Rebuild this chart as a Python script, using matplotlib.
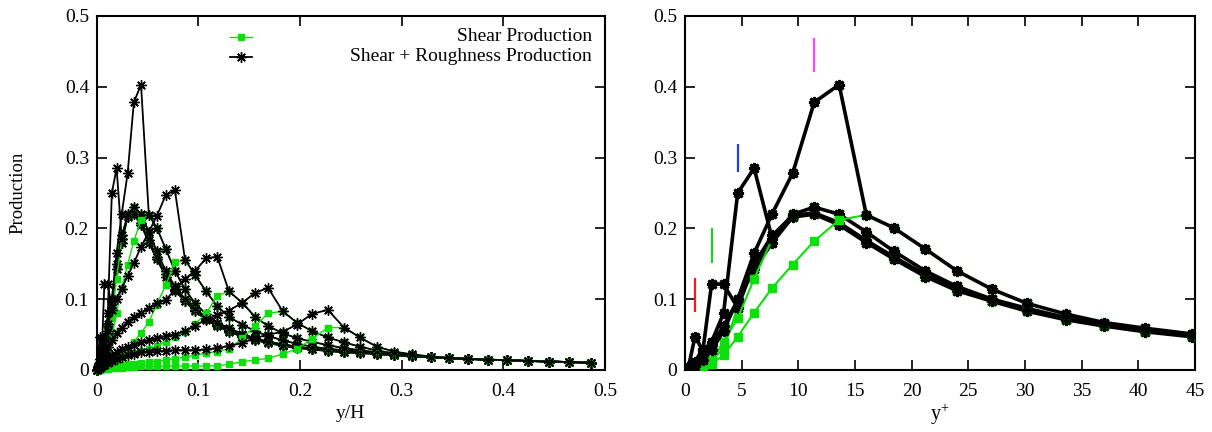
import matplotlib
matplotlib.use("Agg")
import matplotlib.pyplot as plt
import numpy as np

plt.rcParams['font.family'] = ['Liberation Serif', 'DejaVu Serif']
plt.rcParams['mathtext.fontset'] = 'custom'
plt.rcParams['mathtext.rm'] = 'Liberation Serif'
plt.rcParams['font.size'] = 13.5

# wall-normal grid in wall units and friction Reynolds number
re_tau = 312.0
yplus = [0, 0.3, 0.88, 1.6, 2.35, 3.4, 4.65, 6.1, 7.7, 9.5, 11.4, 13.6, 16.0, 18.4,
         21.2, 24.0, 27.1, 30.2, 33.6, 37.0, 40.6, 44.7, 48.6, 52.6, 57.1, 61.4,
         66.0, 70.9, 75.9, 80.8, 85.9, 91.3, 96.8, 102.6, 108.2, 114.0, 120.1,
         126.0, 132.4, 138.7, 144.9, 151.6]

# total (shear + roughness) production for the eight roughness heights
total_k1 = [0, 0.004, 0.047, 0.027, 0.036, 0.062, 0.098, 0.142, 0.180, 0.216, 0.220, 0.205,
            0.180, 0.157, 0.132, 0.112, 0.097, 0.083, 0.071, 0.062, 0.054, 0.047, 0.042,
            0.038, 0.034, 0.031, 0.029, 0.027, 0.025, 0.024, 0.0225, 0.0210, 0.0198,
            0.0180, 0.0167, 0.0156, 0.0146, 0.0137, 0.0128, 0.0120, 0.0112, 0.0105]
total_k2 = [0, 0.004, 0.012, 0.030, 0.122, 0.121, 0.088, 0.150, 0.190, 0.218, 0.222, 0.208,
            0.183, 0.160, 0.135, 0.115, 0.098, 0.085, 0.072, 0.063, 0.055, 0.048, 0.043,
            0.039, 0.035, 0.032, 0.029, 0.027, 0.025, 0.024, 0.0225, 0.0210, 0.0198,
            0.0180, 0.0167, 0.0156, 0.0146, 0.0137, 0.0128, 0.0120, 0.0112, 0.0105]
total_k3 = [0, 0.003, 0.010, 0.022, 0.040, 0.080, 0.250, 0.285, 0.185, 0.220, 0.230, 0.220,
            0.195, 0.168, 0.140, 0.118, 0.100, 0.087, 0.074, 0.065, 0.057, 0.050, 0.044,
            0.040, 0.036, 0.033, 0.030, 0.028, 0.026, 0.025, 0.0230, 0.0212, 0.0198,
            0.0180, 0.0167, 0.0156, 0.0146, 0.0137, 0.0128, 0.0120, 0.0112, 0.0105]
total_k4 = [0, 0.002, 0.006, 0.014, 0.028, 0.055, 0.100, 0.165, 0.221, 0.278, 0.378, 0.403,
            0.219, 0.201, 0.171, 0.140, 0.114, 0.094, 0.079, 0.067, 0.059, 0.051, 0.045,
            0.040, 0.036, 0.033, 0.030, 0.028, 0.026, 0.025, 0.0230, 0.0212, 0.0198,
            0.0180, 0.0167, 0.0156, 0.0146, 0.0137, 0.0128, 0.0120, 0.0112, 0.0105]
total_k5 = [0, 0.005, 0.015, 0.030, 0.045, 0.065, 0.085, 0.100, 0.115, 0.133, 0.151, 0.174,
            0.195, 0.217, 0.247, 0.254, 0.156, 0.134, 0.111, 0.090, 0.075, 0.064, 0.055,
            0.048, 0.042, 0.037, 0.033, 0.030, 0.028, 0.026, 0.0240, 0.0215, 0.0200,
            0.0181, 0.0167, 0.0156, 0.0146, 0.0137, 0.0128, 0.0120, 0.0112, 0.0105]
total_k6 = [0, 0.003, 0.008, 0.015, 0.022, 0.032, 0.042, 0.052, 0.060, 0.068, 0.075, 0.081,
            0.087, 0.094, 0.099, 0.113, 0.129, 0.140, 0.158, 0.160, 0.111, 0.095, 0.075,
            0.062, 0.052, 0.045, 0.040, 0.035, 0.031, 0.028, 0.0250, 0.0222, 0.0205,
            0.0184, 0.0168, 0.0156, 0.0146, 0.0137, 0.0128, 0.0120, 0.0112, 0.0105]
total_k7 = [0, 0.002, 0.005, 0.009, 0.013, 0.017, 0.021, 0.025, 0.030, 0.033, 0.036, 0.039,
            0.042, 0.045, 0.048, 0.050, 0.055, 0.062, 0.072, 0.077, 0.084, 0.095, 0.109,
            0.116, 0.083, 0.067, 0.055, 0.046, 0.039, 0.033, 0.0275, 0.0235, 0.0210,
            0.0190, 0.0172, 0.0158, 0.0147, 0.0138, 0.0128, 0.0120, 0.0112, 0.0105]
total_k8 = [0, 0.001, 0.003, 0.005, 0.007, 0.010, 0.013, 0.016, 0.019, 0.021, 0.023, 0.025,
            0.026, 0.027, 0.027, 0.028, 0.028, 0.028, 0.029, 0.031, 0.034, 0.038, 0.045,
            0.050, 0.054, 0.064, 0.079, 0.085, 0.060, 0.046, 0.0330, 0.0260, 0.0220,
            0.0190, 0.0172, 0.0158, 0.0147, 0.0138, 0.0128, 0.0120, 0.0112, 0.0105]

# shear production inside the roughness layer (above it, it equals the total)
shear_k1 = [0, 0.001, 0.004]
shear_k2 = [0, 0.001, 0.003, 0.007, 0.014, 0.030]
shear_k3 = [0, 0.001, 0.003, 0.006, 0.012, 0.040, 0.073, 0.129]
shear_k4 = [0, 0.0005, 0.0015, 0.004, 0.009, 0.021, 0.047, 0.081, 0.116, 0.149, 0.182, 0.212]
shear_k5 = [0, 0.0005, 0.0015, 0.003, 0.005, 0.008, 0.012, 0.017, 0.023, 0.030, 0.040, 0.052,
            0.068, 0.092, 0.120, 0.152]
shear_k6 = [0, 0.001, 0.002, 0.004, 0.006, 0.009, 0.012, 0.015, 0.018, 0.021, 0.024, 0.027,
            0.030, 0.034, 0.040, 0.046, 0.054, 0.065, 0.080, 0.105]
shear_k7 = [0, 0.0005, 0.001, 0.002, 0.003, 0.004, 0.005, 0.006, 0.007, 0.008, 0.009, 0.010,
            0.011, 0.012, 0.014, 0.016, 0.018, 0.021, 0.024, 0.026, 0.030, 0.045, 0.062, 0.080]
shear_k8 = [0, 0.0002, 0.0005, 0.001, 0.0015, 0.002, 0.0025, 0.003, 0.0035, 0.004, 0.0045,
            0.005, 0.005, 0.0052, 0.0054, 0.0055, 0.0055, 0.0056, 0.0056, 0.006, 0.008,
            0.0118, 0.014, 0.0165, 0.0226, 0.0297, 0.0433, 0.0598]

# roughness heights of the four smallest cases, marked in the y+ panel
rough_yplus = [0.88, 2.35, 4.65, 11.4]
mark_low = [0.082, 0.151, 0.280, 0.421]
mark_high = [0.130, 0.200, 0.319, 0.469]
mark_colors = ['#ee1c1c', '#22d022', '#1f3fd8', '#ff44ff']

totals = [total_k1, total_k2, total_k3, total_k4, total_k5, total_k6, total_k7, total_k8]
shears_in = [shear_k1, shear_k2, shear_k3, shear_k4, shear_k5, shear_k6, shear_k7, shear_k8]
shears = [s + t[len(s):] for s, t in zip(shears_in, totals)]

GREEN = '#0be00b'
yp = np.array(yplus)
yh = yp / re_tau

fig = plt.figure(figsize=(12.12, 4.32), dpi=100)
ax1 = fig.add_axes([96.7 / 1212, 62 / 432, 508.3 / 1212, 354 / 432])
ax2 = fig.add_axes([685 / 1212, 62 / 432, 510 / 1212, 354 / 432])

star = (8, 2, 0)

# left: outer scaling, all eight roughness heights
for s, t in zip(shears, totals):
    ax1.plot(yh, s, color=GREEN, lw=1.0, marker='s', ms=5, mfc=GREEN, mec=GREEN,
             clip_on=False, zorder=3)
    ax1.plot(yh, t, color='black', lw=1.3, marker=star, ms=7.5, mew=1.0,
             clip_on=False, zorder=3)

# right: wall units, four smallest roughness heights
for s, t in zip(shears[:4], totals[:4]):
    ax2.plot(yp, s, color=GREEN, lw=1.5, marker='s', ms=6, mfc=GREEN, mec=GREEN, zorder=3)
    ax2.plot(yp, t, color='black', lw=2.6, marker=star, ms=8, mew=2.0, zorder=3)

ax2.vlines(rough_yplus, mark_low, mark_high, colors=mark_colors, lw=1.6, zorder=4)

for ax in (ax1, ax2):
    ax.set_ylim(0, 0.5)
    ax.set_yticks([0, 0.1, 0.2, 0.3, 0.4, 0.5])
    ax.set_yticklabels(['0', '0.1', '0.2', '0.3', '0.4', '0.5'])
    ax.tick_params(direction='in', length=7, width=1.2, top=True, right=True,
                   labelsize=14)
    ax.tick_params(axis='x', pad=9)
    ax.tick_params(axis='y', pad=5.5)
    for sp in ax.spines.values():
        sp.set_linewidth(1.5)

ax1.set_xlim(0, 0.5)
ax1.set_xticks([0, 0.1, 0.2, 0.3, 0.4, 0.5])
ax1.set_xticklabels(['0', '0.1', '0.2', '0.3', '0.4', '0.5'])
ax1.set_xlabel('y/H', fontsize=14, labelpad=4)

ax2.set_xlim(0, 45)
ax2.set_xticks(range(0, 46, 5))
ax2.set_xlabel(r'$\mathrm{y}^{+}$', fontsize=14.5, labelpad=1)

fig.text(17.5 / 1212, 1 - 193 / 432, 'Production', rotation=90, ha='center',
         va='center', fontsize=13.5)

# key in the upper part of the left panel, text right-justified
key_rows = [(0.9415, 'Shear Production', GREEN, 's', 5, 1.0),
            (0.885, 'Shear + Roughness Production', 'black', star, 7.5, 1.3)]
for yk, label, col, mk, ms, lw in key_rows:
    ax1.plot([0.262, 0.305], [yk, yk], transform=ax1.transAxes, color=col, lw=lw,
             clip_on=False)
    ax1.plot([0.2835], [yk], transform=ax1.transAxes, color=col, marker=mk, ms=ms,
             mfc=col, mec=col, mew=1.0, clip_on=False)
    ax1.text(0.974, yk, label, transform=ax1.transAxes, ha='right', va='center',
             fontsize=14)

fig.savefig('out.png', dpi=100)
